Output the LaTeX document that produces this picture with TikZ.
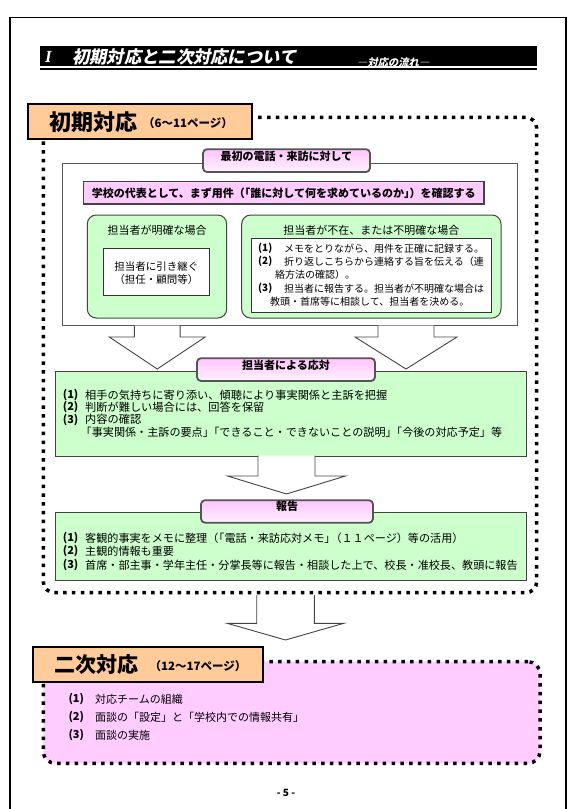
\documentclass[tikz,border=0pt]{standalone}
\usepackage{fontspec}
\setmainfont{Noto Sans CJK JP}
\newfontfamily\slantjp{Noto Sans CJK JP}[FakeSlant=0.2]
\newfontfamily\romanbi{Liberation Serif}
\usetikzlibrary{fit}
\definecolor{orng}{HTML}{FFCC99}
\definecolor{grn}{HTML}{CCFFCC}
\definecolor{pnk}{HTML}{FFCCFF}
\definecolor{pnkA}{HTML}{FFC4FC}
\definecolor{pnkB}{HTML}{FFF2FF}
\definecolor{edge}{HTML}{444444}
\definecolor{lbledge}{HTML}{555555}
\newcommand{\fsz}[1]{\fontsize{#1}{#1}\selectfont}
\newcommand{\blockarrow}[6]{%
  \fill[white] (#1-#5,#2) -- (#1-#5,#3) -- (#1-#6,#3) -- (#1,#4) -- (#1+#6,#3) -- (#1+#5,#3) -- (#1+#5,#2) -- cycle;
  \draw[arrowline] (#1-#5,#2) -- (#1-#5,#3) -- (#1-#6,#3) -- (#1,#4) -- (#1+#6,#3) -- (#1+#5,#3) -- (#1+#5,#2);}
\tikzset{
  txt/.style={inner sep=0pt, text=black, font=\fsz{11}},
  numtxt/.style={inner sep=0pt, text=black, font=\fsz{11}\bfseries},
  btxt/.style={inner sep=0pt, text=black, font=\fsz{11}\bfseries},
  dotbox/.style={draw=black, line width=3.5pt, dash pattern=on 3.5pt off 5.3pt, rounded corners=11pt},
  headbox/.style={draw=black, fill=orng, line width=2pt, inner sep=0pt},
  greenbox/.style={draw=edge, fill=grn, line width=1pt, inner sep=0pt},
  greenround/.style={draw=edge, fill=grn, line width=1pt, inner sep=0pt, rounded corners=9pt},
  whitebox/.style={draw=edge, fill=white, line width=0.9pt, inner sep=0pt},
  tagbox/.style={draw=lbledge, line width=1.8pt, rounded corners=4pt, top color=pnkA, bottom color=pnkB, inner sep=0pt, font=\fsz{11}\bfseries, text=black},
  arrowline/.style={draw=edge, line width=0.9pt, line join=miter},
}
\begin{document}
\begin{tikzpicture}[x=1pt,y=-1pt]
\useasboundingbox (0,0) rectangle (581,809);
% page frame
\draw[line width=1.5pt] (10,818) -- (10,17.3) -- (566,17.3) -- (566,818);
% title bar
\fill[black] (40,46) rectangle (537,66.3);
\draw[line width=1.6pt] (40,68.8) -- (537,68.8);
\node[inner sep=0pt, text=white, font=\romanbi\fsz{17}\bfseries\itshape, anchor=west] (tI) at (45,56.5) {I};
\node[inner sep=0pt, text=white, font=\slantjp\fsz{17.3}\bfseries, anchor=west] (ttitle) at (72,57) {初期対応と二次対応について};
\node[inner sep=0pt, text=white, font=\slantjp\fsz{10.3}\bfseries, anchor=west] (tsub) at (357,62.5) {―対応の流れ―};

% ===== initial response area =====
\node[dotbox, fit={(43.3,117.3) (536.7,592.7)}, inner sep=0pt] (initarea) {};
\node[headbox, fit={(28.3,104) (251.7,139.3)}] (inithead) {};
\node[inner sep=0pt, font=\fsz{22}\bfseries, anchor=west] (inittitle) at (49.5,122) {初期対応};
\node[inner sep=0pt, font=\fsz{11.5}\bfseries, anchor=west] (initpages) at (143,123.5) {（6～11ページ）};

% first contact block
\node[whitebox, draw=edge!90, fit={(62.3,163.3) (517.7,325.5)}] (firstblk) {};
\node[tagbox, fit={(203,149.2) (370,172)}] (firsttag) {最初の電話・来訪に対して};
\node[draw=edge, fill=pnk, line width=1.2pt, inner sep=0pt, fit={(83.3,181.7) (484,204)}] (confirm) {};
\node[btxt, font=\fsz{11}\bfseries] (confirmtxt) at (confirm.center) {学校の代表として、まず用件（\kern-.5em「誰に対して何を求めているのか」\kern-.5em）を確認する};

\node[greenround, fit={(87.3,215) (226.7,318)}] (clearbox) {};
\node[txt] (cleartitle) at (157,230) {担当者が明確な場合};
\node[whitebox, draw=black!80, line width=0.8pt, fit={(103.3,248.3) (209.3,295)}] (clearin) {};
\node[txt, font=\fsz{10.5}] (clear1) at (156.3,266.5) {担当者に引き継ぐ};
\node[txt, font=\fsz{10.5}] (clear2) at (156.3,279.3) {（担任・顧問等）};

\node[greenround, fit={(241.7,215) (501,318)}] (unclearbox) {};
\node[txt] (uncleartitle) at (371.3,230) {担当者が不在、または不明確な場合};
\node[whitebox, draw=black!80, line width=0.8pt, fit={(251.7,238.3) (491.7,312.3)}] (unclearin) {};
\node[numtxt, font=\fsz{10}\bfseries, anchor=west] (u1n) at (258,248.5) {(1)};
\node[txt, font=\fsz{10}, anchor=west] (u1) at (284,248.5) {メモをとりながら、用件を正確に記録する。};
\node[numtxt, font=\fsz{10}\bfseries, anchor=west] (u2n) at (258,261.3) {(2)};
\node[txt, font=\fsz{10}, anchor=west] (u2) at (284,261.3) {折り返しこちらから連絡する旨を伝える（連};
\node[txt, font=\fsz{10}, anchor=west] (u2b) at (275,274.3) {絡方法の確認）。};
\node[numtxt, font=\fsz{10}\bfseries, anchor=west] (u3n) at (258,288.3) {(3)};
\node[txt, font=\fsz{10}, anchor=west] (u3) at (284,288.3) {担当者に報告する。担当者が不明確な場合は};
\node[txt, font=\fsz{10}, anchor=west] (u3b) at (270,301.7) {教頭・首席等に相談して、担当者を決める。};

% arrows down to response
\blockarrow{157.2}{325.5}{337}{369}{22.85}{48}
\blockarrow{406}{325.5}{337}{369}{28}{51}

% response block
\node[greenbox, fit={(55,371.7) (526.7,456)}] (respblk) {};
\node[tagbox, fit={(197,358.2) (375,381)}] (resptag) {担当者による応対};
\node[numtxt, anchor=west] (r1n) at (62.7,395) {(1)};
\node[txt, font=\fsz{11.2}, anchor=west] (r1) at (85,395) {相手の気持ちに寄り添い、傾聴により事実関係と主訴を把握};
\node[numtxt, anchor=west] (r2n) at (62.7,407.3) {(2)};
\node[txt, font=\fsz{11.2}, anchor=west] (r2) at (85,407.3) {判断が難しい場合には、回答を保留};
\node[numtxt, anchor=west] (r3n) at (62.7,419.5) {(3)};
\node[txt, font=\fsz{11.2}, anchor=west] (r3) at (85,419.5) {内容の確認};
\node[txt, font=\fsz{11.1}, anchor=west] (r4) at (80.5,431.8) {「事実関係・主訴の要点」\kern-.5em「できること・できないことの説明」\kern-.5em「今後の対応予定」等};

\blockarrow{286.5}{455.5}{476}{494}{28.5}{59}

% report block
\node[greenbox, fit={(55,512) (526.7,580.7)}] (repblk) {};
\node[tagbox, fit={(201,500.2) (373,522.7)}] (reptag) {報告};
\node[numtxt, anchor=west] (p1n) at (62.7,538.3) {(1)};
\node[txt, font=\fsz{11.1}, anchor=west] (p1) at (85,538.3) {客観的事実をメモに整理（\kern-.45em「電話・来訪応対メモ」\kern-.45em（１１ページ）等の活用）};
\node[numtxt, anchor=west] (p2n) at (62.7,551) {(2)};
\node[txt, font=\fsz{11.1}, anchor=west] (p2) at (85,551) {主観的情報も重要};
\node[numtxt, anchor=west] (p3n) at (62.7,565) {(3)};
\node[txt, font=\fsz{11.1}, anchor=west] (p3) at (85,565) {首席・部主事・学年主任・分掌長等に報告・相談した上で、校長・准校長、教頭に報告};

% arrow to secondary
\blockarrow{285.5}{595}{623.3}{640}{28.8}{58.3}

% ===== secondary response =====
\node[dotbox, fill=pnk, rounded corners=12pt, fit={(43.3,661.7) (540,763.3)}, inner sep=0pt] (secarea) {};
\node[headbox, fit={(33.3,647.3) (262.7,682.3)}] (sechead) {};
\node[inner sep=0pt, font=\fsz{21}\bfseries, anchor=west] (sectitle) at (54,665) {二次対応};
\node[inner sep=0pt, font=\fsz{11.5}\bfseries, anchor=west] (secpages) at (149.5,666.5) {（12～17ページ）};
\node[numtxt, anchor=west] (s1n) at (68.3,699) {(1)};
\node[txt, anchor=west] (s1) at (95,699) {対応チームの組織};
\node[numtxt, anchor=west] (s2n) at (68.3,717.3) {(2)};
\node[txt, anchor=west] (s2) at (95,717.3) {面談の「設定」と「学校内での情報共有」};
\node[numtxt, anchor=west] (s3n) at (68.3,735) {(3)};
\node[txt, anchor=west] (s3) at (95,735) {面談の実施};

\node[txt, font=\fsz{10}\bfseries] (pageno) at (286,793) {- 5 -};
\end{tikzpicture}
\end{document}
